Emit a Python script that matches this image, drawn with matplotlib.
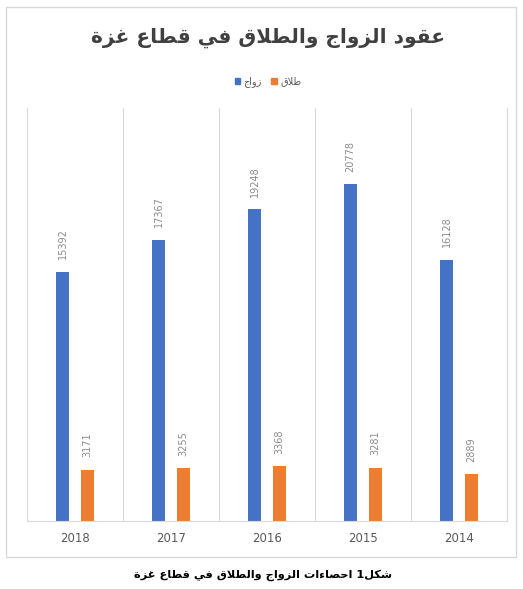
import matplotlib
matplotlib.use('Agg')
import matplotlib.pyplot as plt
from matplotlib.patches import Rectangle, Patch
import numpy as np

# Data
years = ['2018', '2017', '2016', '2015', '2014']
marriages = [15392, 17367, 19248, 20778, 16128]
divorces = [3171, 3255, 3368, 3281, 2889]

title_txt = 'عقود الزواج والطلاق في قطاع غزة'
caption_txt = 'شكل1 احصاءات الزواج والطلاق في قطاع غزة'
label_marriage = 'زواج'
label_divorce = 'طلاق'

# Arabic presentation forms: (isolated, final, initial, medial); None = does not join forward
FORMS = {
    'ا': (0xFE8D, 0xFE8E, None, None),
    'ء': (0xFE80, None, None, None),
    'ة': (0xFE93, 0xFE94, None, None),
    'ت': (0xFE95, 0xFE96, 0xFE97, 0xFE98),
    'ج': (0xFE9D, 0xFE9E, 0xFE9F, 0xFEA0),
    'ح': (0xFEA1, 0xFEA2, 0xFEA3, 0xFEA4),
    'د': (0xFEA9, 0xFEAA, None, None),
    'ز': (0xFEAF, 0xFEB0, None, None),
    'ش': (0xFEB5, 0xFEB6, 0xFEB7, 0xFEB8),
    'ص': (0xFEB9, 0xFEBA, 0xFEBB, 0xFEBC),
    'ط': (0xFEC1, 0xFEC2, 0xFEC3, 0xFEC4),
    'ع': (0xFEC9, 0xFECA, 0xFECB, 0xFECC),
    'غ': (0xFECD, 0xFECE, 0xFECF, 0xFED0),
    'ف': (0xFED1, 0xFED2, 0xFED3, 0xFED4),
    'ق': (0xFED5, 0xFED6, 0xFED7, 0xFED8),
    'ك': (0xFED9, 0xFEDA, 0xFEDB, 0xFEDC),
    'ل': (0xFEDD, 0xFEDE, 0xFEDF, 0xFEE0),
    'و': (0xFEED, 0xFEEE, None, None),
    'ي': (0xFEF1, 0xFEF2, 0xFEF3, 0xFEF4),
    'LA': (0xFEFB, 0xFEFC, None, None),
}


def shape(text):
    # lam + alef -> one ligature unit
    units = []
    i = 0
    while i < len(text):
        if text[i] == 'ل' and i + 1 < len(text) and text[i + 1] == 'ا':
            units.append('LA')
            i += 2
        else:
            units.append(text[i])
            i += 1
    out = []
    for k, u in enumerate(units):
        if u not in FORMS:
            out.append(u)
            continue
        f = FORMS[u]
        prev = units[k - 1] if k > 0 else None
        nxt = units[k + 1] if k + 1 < len(units) else None
        jp = prev in FORMS and FORMS[prev][2] is not None and f[1] is not None
        jn = nxt in FORMS and f[2] is not None and FORMS[nxt][1] is not None
        if jp and jn:
            c = f[3]
        elif jp:
            c = f[1]
        elif jn:
            c = f[2]
        else:
            c = f[0]
        out.append(chr(c))
    # visual order (right to left)
    return ''.join(out)[::-1]


blue = '#4472C4'
orange = '#ED7D31'
grid_c = '#D9D9D9'
text_c = '#595959'

W, H = 523, 589
fig = plt.figure(figsize=(W / 100, H / 100), dpi=100)

# chart frame
fig.patches.append(Rectangle((6 / W, 1 - 557 / H), 510 / W, 550 / H,
                             transform=fig.transFigure, fill=False,
                             edgecolor=grid_c, linewidth=1))

ax = fig.add_axes([27 / W, 1 - 521 / H, 480 / W, 413 / H])
x = np.arange(len(years))
off = 0.13
w = 0.135
b1 = ax.bar(x - off, marriages, w, color=blue)
b2 = ax.bar(x + off, divorces, w, color=orange)

for bars, vals in [(b1, marriages), (b2, divorces)]:
    for r, v in zip(bars, vals):
        ax.annotate(str(v), (r.get_x() + r.get_width() / 2, r.get_height()),
                    xytext=(0, 9), textcoords='offset points', rotation=90,
                    ha='center', va='bottom', fontsize=7, color='#8C8C8C')

ax.set_xlim(-0.5, len(years) - 0.5)
ax.set_ylim(0, 25500)
ax.set_xticks(x)
ax.set_xticklabels(years, fontsize=8.5, color=text_c)
ax.set_xticks(np.arange(-0.5, len(years), 1), minor=True)
ax.tick_params(axis='x', which='both', length=0, pad=8)
ax.set_yticks([])
ax.grid(axis='x', which='minor', color=grid_c, linewidth=0.8)
ax.spines['top'].set_visible(False)
for s in ['left', 'right', 'bottom']:
    ax.spines[s].set_color(grid_c)
    ax.spines[s].set_linewidth(0.8)

fig.text(268 / W, 1 - 38 / H, shape(title_txt), ha='center', va='center',
         fontsize=14.5, fontweight='bold', color='#404040')

handles = [Patch(color=blue), Patch(color=orange)]
fig.legend(handles, [shape(label_marriage), shape(label_divorce)], ncol=2,
           loc='center', bbox_to_anchor=(268 / W, 1 - 82 / H), frameon=False,
           fontsize=7, handlelength=0.6, handleheight=0.6, handletextpad=0.3,
           columnspacing=1.0, labelcolor=text_c)

fig.text(263 / W, 1 - 575 / H, shape(caption_txt), ha='center', va='center',
         fontsize=8.2, fontweight='bold', color='black')

plt.savefig('out.png', dpi=100)
